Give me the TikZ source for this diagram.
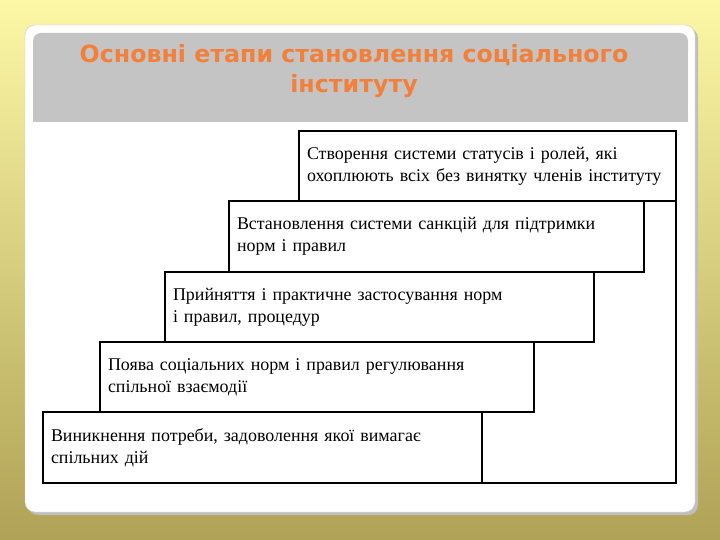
\documentclass[tikz,border=0pt]{standalone}
\usepackage{fontspec}
\setmainfont{Liberation Serif}
\newfontfamily\titlefont{DejaVu Sans}
\usetikzlibrary{positioning}

\definecolor{bgtop}{RGB}{252,248,166}
\definecolor{bgmid}{RGB}{236,226,130}
\definecolor{bgbot}{RGB}{176,162,86}
\definecolor{titlebar}{RGB}{196,196,196}
\definecolor{titletext}{RGB}{242,128,58}

\tikzset{
  stepbox/.style={draw=black, line width=1.6bp, fill=white, anchor=north west,
    outer sep=0pt, inner xsep=8bp, inner ysep=0pt, align=left,
    font=\fontsize{18}{22}\selectfont},
  frameline/.style={draw=black, line width=1.6bp}
}

\begin{document}
\begin{tikzpicture}[x=1bp, y=-1bp]
  \useasboundingbox (0,0) rectangle (720,540);
  \shade[top color=bgtop, middle color=bgmid, bottom color=bgbot] (0,0) rectangle (720,540);

  %% ---------- slide panel + title bar ----------
  \fill[black!25, rounded corners=10bp] (28,28) rectangle (698,515);
  \filldraw[fill=white, draw=black!20, rounded corners=10bp] (25,25) rectangle (695,512);
  \fill[titlebar, rounded corners=8bp] (33,33) rectangle (688,60);
  \fill[titlebar] (33,50) rectangle (688,122);
  \node[font=\titlefont\bfseries\fontsize{23.8}{30}\selectfont, text=titletext, align=center]
    (title) at (354,71) {Основні етапи становлення соціального\\інституту};

  %% ---------- staircase of stages ----------
  \node[stepbox, minimum width=377bp, minimum height=70bp, text width=361bp]
    (s5) at (299,131) {Створення системи статусів і ролей, які\\охоплюють всіх без винятку членів інституту};
  \node[stepbox, minimum width=415bp, minimum height=71bp, text width=399bp]
    (s4) at (229,201) {Встановлення системи санкцій для підтримки\\норм і правил};
  \node[stepbox, minimum width=429bp, minimum height=70bp, text width=413bp]
    (s3) at (165,272) {Прийняття і практичне застосування норм\\і правил, процедур};
  \node[stepbox, minimum width=434bp, minimum height=70bp, text width=418bp]
    (s2) at (100,342) {Поява соціальних норм і правил регулювання\\спільної взаємодії};
  \node[stepbox, minimum width=439bp, minimum height=71bp, text width=423bp]
    (s1) at (43,412) {Виникнення потреби, задоволення якої вимагає\\спільних дій};

  % outer edge of the staircase
  \draw[frameline] (s5.south east) |- (s1.south east);
\end{tikzpicture}
\end{document}
